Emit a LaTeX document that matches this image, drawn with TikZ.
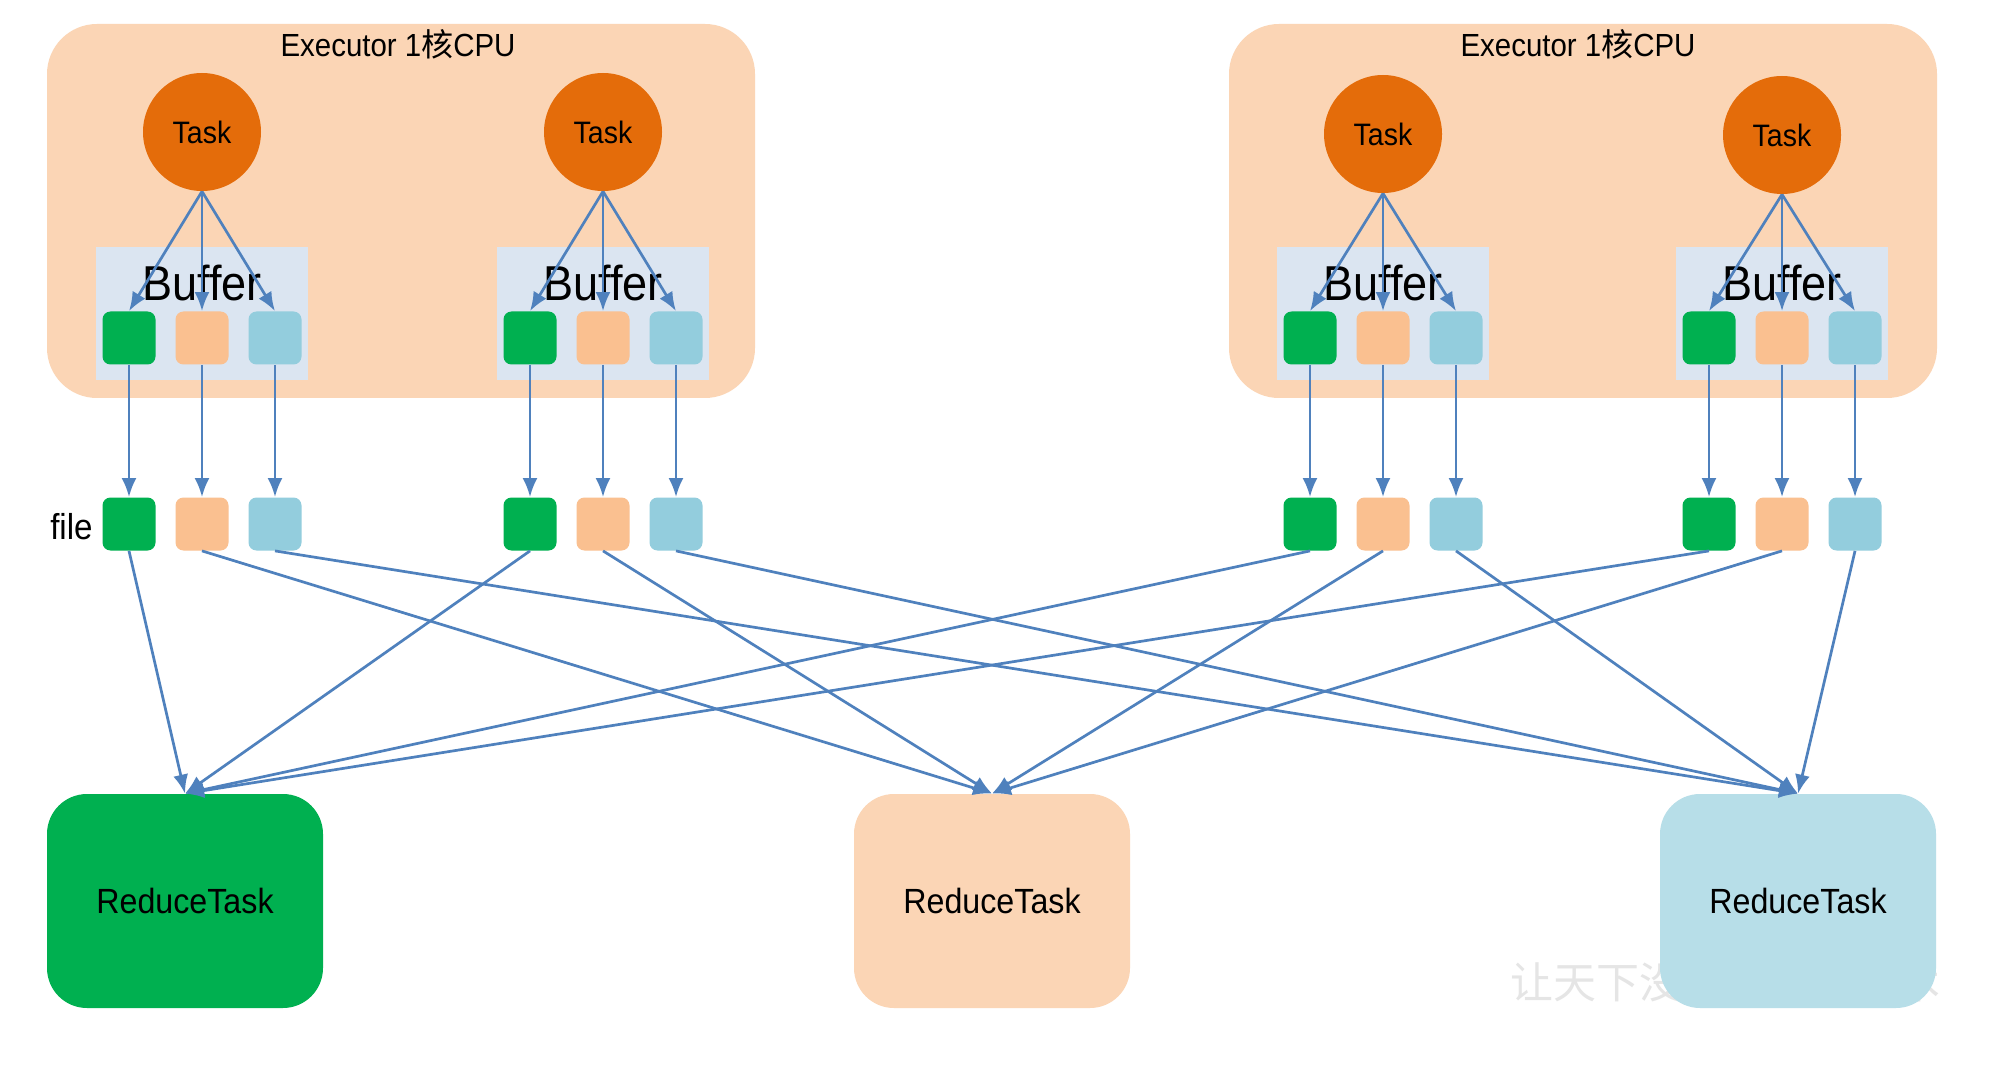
\documentclass[tikz,border=0pt]{standalone}
\usepackage{fontspec}
\setmainfont{Liberation Sans}[FakeStretch=0.92]
\newfontfamily\cjk{Noto Sans CJK SC}
\usetikzlibrary{arrows.meta}
\definecolor{execc}{HTML}{FBD5B5}
\definecolor{taskc}{HTML}{E46C0A}
\definecolor{bufc}{HTML}{DBE5F1}
\definecolor{sqg}{HTML}{00B050}
\definecolor{sqo}{HTML}{FAC090}
\definecolor{sqb}{HTML}{93CDDD}
\definecolor{redo}{HTML}{FBD5B5}
\definecolor{redb}{HTML}{B7DEE8}
\definecolor{arrc}{HTML}{4F81BD}
\tikzset{
  execbox/.style={fill=execc, draw=none, rounded corners=25pt, minimum width=354pt, minimum height=187pt, inner sep=0pt},
  exectitle/.style={font=\fontsize{16}{18}\selectfont, inner sep=0pt},
  taskcirc/.style={circle, fill=taskc, draw=none, minimum size=59pt, inner sep=0pt, font=\fontsize{15.5}{17}\selectfont},
  bufbox/.style={fill=bufc, draw=none, minimum width=106pt, minimum height=66.5pt, inner sep=0pt},
  buftext/.style={font=\fontsize{24.5}{26}\selectfont, inner sep=0pt},
  sq/.style={draw=none, rounded corners=4pt, minimum size=26.5pt, inner sep=0pt},
  redbox/.style={draw=none, rounded corners=20pt, minimum width=138pt, minimum height=107pt, inner sep=0pt, font=\fontsize{17.5}{19}\selectfont},
  arr/.style={draw=arrc, line width=1.35pt, -{Latex[length=9.5pt,width=7.5pt]}},
  wmark/.style={font=\cjk\fontsize{21.5}{23}\selectfont, text=black!10, inner sep=0pt}
}
\begin{document}
\begin{tikzpicture}[x=0.5pt,y=-0.5pt]
\useasboundingbox (0,0) rectangle (2012,1080);
\fill[white] (0,0) rectangle (2012,1080);

% executors
\node[execbox] (ex1) at (401,211) {};
\node[execbox] (ex2) at (1583,211) {};
\node[exectitle] (ext1) at (398,44) {Executor 1{\cjk 核}CPU};
\node[exectitle] (ext2) at (1578,44) {Executor 1{\cjk 核}CPU};

\foreach \i/\gx/\ty in {1/202/132,2/603/132,3/1383/134,4/1782/135} {
  \node[taskcirc] (t\i) at (\gx,\ty) {Task};
  \node[bufbox] (buf\i) at (\gx,313.5) {};
  \node[buftext] (bt\i) at (\gx,283) {Buffer};
  \node[sq, fill=sqg] (bg\i) at (\gx-73,338) {};
  \node[sq, fill=sqo] (bo\i) at (\gx,338) {};
  \node[sq, fill=sqb] (bb\i) at (\gx+73,338) {};
  \node[sq, fill=sqg] (fg\i) at (\gx-73,524) {};
  \node[sq, fill=sqo] (fo\i) at (\gx,524) {};
  \node[sq, fill=sqb] (fb\i) at (\gx+73,524) {};
}

\node[font=\fontsize{18}{20}\selectfont, inner sep=0pt, anchor=east] (filelbl) at (93,527) {file};

% watermark
\node[wmark, anchor=west] (wm) at (1510,982) {让天下没有难学的技术};

% reduce tasks
\node[redbox, fill=sqg] (rg) at (185,901) {ReduceTask};
\node[redbox, fill=redo] (ro) at (992,901) {ReduceTask};
\node[redbox, fill=redb] (rb) at (1798,901) {ReduceTask};

% arrows
\foreach \i in {1,2,3,4} {
  \foreach \c in {g,o,b} {
    \draw[arr] (t\i.south) -- (b\c\i.north);
    \draw[arr] (b\c\i.south) -- (f\c\i.north);
  }
  \draw[arr] (fg\i.south) -- (rg.north);
  \draw[arr] (fo\i.south) -- (ro.north);
  \draw[arr] (fb\i.south) -- (rb.north);
}
\end{tikzpicture}
\end{document}
